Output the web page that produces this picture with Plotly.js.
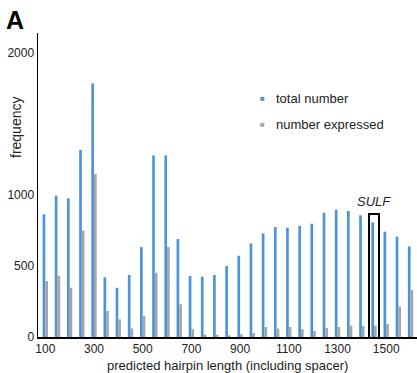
<!DOCTYPE html>
<html><head><meta charset="utf-8">
<script src="https://cdn.plot.ly/plotly-3.0.1.min.js"></script>
<style>html,body{margin:0;padding:0;background:#fff}#chart{width:417px;height:373px}</style>
</head><body><div id="chart"></div>
<script>
const hairpinLengths = [100,150,200,250,300,350,400,450,500,550,600,650,700,750,800,850,900,950,1000,1050,1100,1150,1200,1250,1300,1350,1400,1450,1500,1550,1600];
const totalNumber = [862,993,974,1314,1782,419,346,436,632,1276,1276,688,428,424,436,499,571,658,728,773,768,780,796,873,894,885,855,806,740,705,637];
const numberExpressed = [393,431,346,747,1145,183,124,61,148,452,632,230,56,19,16,12,19,28,70,59,70,54,42,63,70,80,77,80,91,213,330];
const xTickValues = [100,300,500,700,900,1100,1300,1500];
const yTickValues = [0,500,1000,2000];
const seriesNames = ['total number','number expressed'];
const highlightLength = 1450;
const highlightLabel = 'SULF';

const FONT = '"Liberation Sans", Arial, Helvetica, sans-serif';
const BLUE = '#4d93da';
const GRAY = '#a6a6a6';
const YMAX = 2136;

const traces = [
  {type:'bar', name:seriesNames[0], x:hairpinLengths, y:totalNumber, marker:{color:BLUE}, showlegend:false, hoverinfo:'x+y'},
  {type:'bar', name:seriesNames[1], x:hairpinLengths, y:numberExpressed, marker:{color:GRAY}, showlegend:false, hoverinfo:'x+y'}
];

const layout = {
  width:417, height:373,
  margin:{l:38, r:0, t:33, b:36},
  paper_bgcolor:'#fff', plot_bgcolor:'#fff',
  font:{family:FONT, size:12, color:'#222'},
  barmode:'group', bargap:0.56, bargroupgap:0,
  xaxis:{
    range:[70,1626.5], tickmode:'array', tickvals:xTickValues,
    ticktext:xTickValues.map(String), showgrid:false, zeroline:false,
    showline:true, linecolor:'#000', linewidth:2, ticks:'',
    tickfont:{size:12, color:'#222', family:FONT}
  },
  yaxis:{
    range:[0,YMAX], tickmode:'array', tickvals:yTickValues,
    ticktext:yTickValues.map(String), showgrid:false, zeroline:false,
    showline:true, linecolor:'#000', linewidth:1.5, ticks:'',
    tickfont:{size:12, color:'#222', family:FONT}
  },
  yaxis2:{
    overlaying:'y', range:[0,YMAX], tickmode:'linear', tick0:0, dtick:200,
    showgrid:true, gridcolor:'#e2e2e2', gridwidth:1, showticklabels:false,
    zeroline:false, showline:false, ticks:''
  },
  shapes:[
    {type:'rect', xref:'x', yref:'y', x0:highlightLength-20.5, x1:highlightLength+20.5,
     y0:-21, y1:864, line:{color:'#000', width:2}, fillcolor:'rgba(0,0,0,0)', layer:'above'}
  ],
  annotations:[
    {text:'<b>A</b>', xref:'paper', yref:'paper', x:(-38+4)/379, y:(337-20)/304, showarrow:false,
     xanchor:'left', yanchor:'middle', font:{size:25, color:'#000', family:FONT}},
    {text:'frequency', xref:'paper', yref:'paper', x:(16-38)/379, y:(337-128)/304, textangle:-90,
     showarrow:false, xanchor:'center', yanchor:'middle', font:{size:14, color:'#222', family:FONT}},
    {text:'predicted hairpin length (including spacer)', xref:'paper', yref:'paper', x:(227-38)/379, y:(337-365)/304,
     showarrow:false, xanchor:'center', yanchor:'middle', font:{size:13, color:'#222', family:FONT}},
    {text:'<i>'+highlightLabel+'</i>', xref:'x', yref:'y', x:highlightLength, y:950,
     showarrow:false, xanchor:'center', yanchor:'middle', font:{size:13, color:'#222', family:FONT}},
    {text:'■', xref:'x', yref:'y', x:992, y:1679, showarrow:false, xanchor:'center', yanchor:'middle',
     font:{size:8, color:BLUE, family:FONT}},
    {text:seriesNames[0], xref:'x', yref:'y', x:1041, y:1679, showarrow:false, xanchor:'left', yanchor:'middle',
     font:{size:13, color:'#222', family:FONT}},
    {text:'■', xref:'x', yref:'y', x:992, y:1496, showarrow:false, xanchor:'center', yanchor:'middle',
     font:{size:8, color:GRAY, family:FONT}},
    {text:seriesNames[1], xref:'x', yref:'y', x:1041, y:1496, showarrow:false, xanchor:'left', yanchor:'middle',
     font:{size:13, color:'#222', family:FONT}}
  ]
};
Plotly.newPlot('chart', traces, layout, {displayModeBar:false, staticPlot:true});
</script></body></html>
